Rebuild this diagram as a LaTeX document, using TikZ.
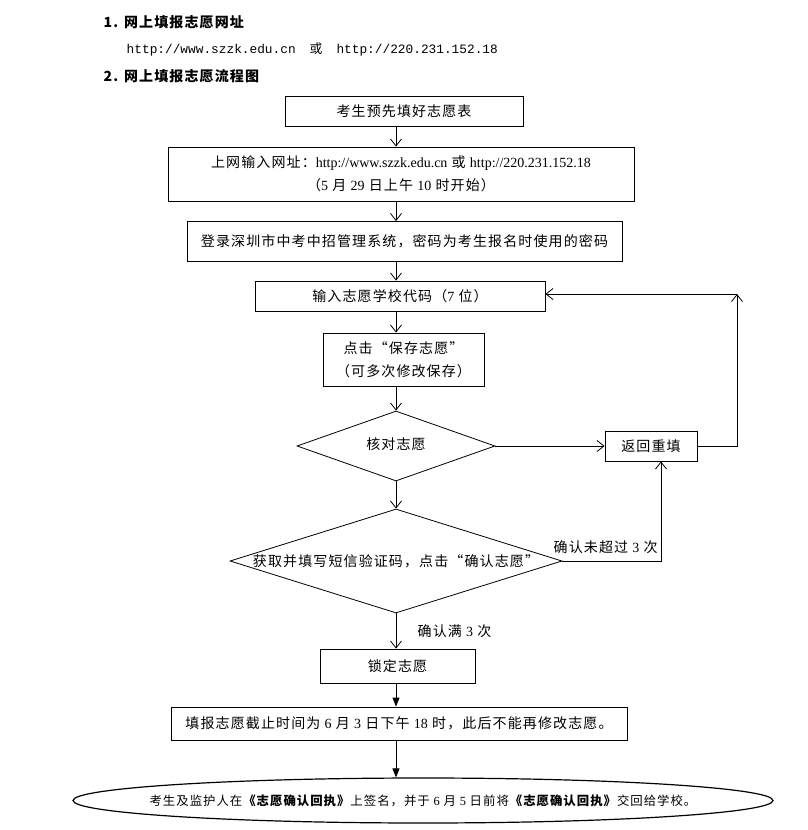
\documentclass[tikz,border=0pt]{standalone}
\usepackage{fontspec}
\setmainfont{Noto Sans CJK SC}[LetterSpace=8]
\newfontfamily\tm{Liberation Serif}
\setmonofont{Liberation Mono}
\usetikzlibrary{arrows.meta,positioning,shapes.geometric}

\begin{document}
\begin{tikzpicture}[
    x=1pt, y=-1pt, line width=0.8pt,
    box/.style={draw, minimum height=30pt, inner sep=0pt, align=center,
                font=\fontsize{14}{23}\selectfont},
    decision/.style={draw, diamond, inner sep=0pt,
                     font=\fontsize{14}{17}\selectfont},
    note/.style={font=\fontsize{14}{17}\selectfont},
    head/.style={anchor=west, font=\fontsize{14}{17}\selectfont\bfseries},
    arrow/.style={-{Straight Barb[length=7pt,width=11pt]}},
    farrow/.style={-{Triangle[length=9pt,width=7pt]}}
  ]
  \path[use as bounding box, fill=white] (0,0) rectangle (808,830);

  \node[head] (t1) at (100,22) {1. 网上填报志愿网址};
  \node[anchor=west, font=\fontsize{12.8}{15}\selectfont] (url) at (123,49)
    {\ttfamily http://www.szzk.edu.cn\hspace{14pt}\rmfamily 或\hspace{14pt}\ttfamily http://220.231.152.18};
  \node[head] (t2) at (100,76) {2. 网上填报志愿流程图};

  \coordinate (ax) at (396,0);
  \node[box, minimum width=238pt] (pre) at (404,111) {考生预先填好志愿表};
  \node[box, minimum width=466pt, minimum height=54pt] (web) at (401,174)
    {上网输入网址：{\tm http://www.szzk.edu.cn} 或 {\tm http://220.231.152.18}\\（{\tm 5} 月 {\tm 29} 日上午 {\tm 10} 时开始）};
  \node[box, minimum width=435pt, minimum height=40pt] (login) at (404.5,241.5)
    {登录深圳市中考中招管理系统，密码为考生报名时使用的密码};
  \node[box, minimum width=290pt] (code) at (400,296) {输入志愿学校代码（{\tm 7} 位）};
  \node[box, minimum width=161pt, minimum height=53pt] (save) at (403.5,359.5)
    {点击“保存志愿”\\（可多次修改保存）};
  \node[decision, minimum width=198pt, minimum height=70pt] (check) at (396,446)
    {\raisebox{5pt}{\makebox[0pt]{核对志愿}}};
  \node[box, minimum width=92pt] (redo) at (651,446) {返回重填};
  \node[decision, minimum width=332pt, minimum height=104pt] (confirm) at (396,561)
    {\makebox[0pt]{获取并填写短信验证码，点击“确认志愿”}};
  \node[box, minimum width=155pt, minimum height=34pt] (lock) at (397.5,666) {锁定志愿};
  \node[box, minimum width=456pt, minimum height=33pt] (ddl) at (399,723.5)
    {填报志愿截止时间为 {\tm 6} 月 {\tm 3} 日下午 {\tm 18} 时，此后不能再修改志愿。};
  \node[draw, ellipse, line width=1.2pt, minimum width=700pt, minimum height=45pt,
        inner sep=0pt, font=\fontsize{12.4}{14}\selectfont] (sign) at (423,800.5)
    {\makebox[0pt]{考生及监护人在\textbf{《志愿确认回执》}上签名，并于 {\tm 6} 月 {\tm 5} 日前将\textbf{《志愿确认回执》}交回给学校。}};

  \draw[arrow] (pre.south -| ax) -- (web.north -| ax);
  \draw[arrow] (web.south -| ax) -- (login.north -| ax);
  \draw[arrow] (login.south -| ax) -- (code.north -| ax);
  \draw[arrow] (code.south -| ax) -- (save.north -| ax);
  \draw[arrow] (save.south -| ax) -- (check.north);
  \draw[arrow] (check.south) -- (confirm.north);
  \draw[arrow] (confirm.south) -- node[note, anchor=west, xshift=18pt] {确认满 {\tm 3} 次} (lock.north -| ax);
  \draw[farrow] (lock.south -| ax) -- (ddl.north -| ax);
  \draw[farrow] (ddl.south -| ax) -- (sign.north -| ax);

  % back to the school code
  \draw[arrow] (check.east) -- (redo.west);
  \coordinate (back) at (737,294);
  \draw[arrow] (redo.east) -| (back);
  \draw[arrow] (back) -- (back -| code.east);
  \draw[arrow] (confirm.east) -| node[note, pos=0.25, above, xshift=-6pt, yshift=4pt] {确认未超过 {\tm 3} 次} ([xshift=10pt]redo.south);

\end{tikzpicture}
\end{document}
